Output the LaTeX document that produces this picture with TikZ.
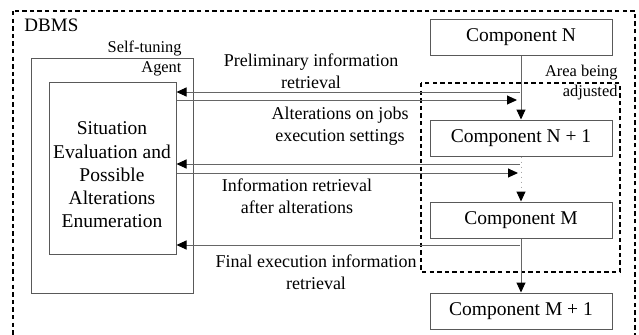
\documentclass[tikz,border=0pt]{standalone}
\usepackage{fontspec}
\setmainfont{Liberation Serif}
\usetikzlibrary{positioning}
\usetikzlibrary{calc}
\usetikzlibrary{arrows.meta}

\begin{document}
\begin{tikzpicture}[x=0.5pt,y=-0.5pt,line width=0.5pt,
			>={Triangle[length=5pt,width=4.5pt,black]}]
			\tikzstyle{comp}=[draw=black!65,minimum width=91pt,minimum height=18pt,
				font=\fontsize{9.75}{11.5}\selectfont]
			\tikzstyle{frame}=[draw=black!65,inner sep=0pt]
			\tikzstyle{link}=[draw=black!60,->]
			\tikzstyle{region}=[draw=black,line width=0.75pt,dash pattern=on 2.2pt off 1.6pt]
			\tikzstyle{note}=[font=\fontsize{9}{11}\selectfont,align=center,inner sep=0pt]
			\tikzstyle{tag}=[font=\fontsize{8.2}{10}\selectfont,align=right,anchor=east,inner sep=0pt]
			
			\useasboundingbox (0,0) rectangle (639,334);
			\draw[region] (13,11) rectangle (635,342);
			\node[anchor=west,inner sep=0pt,font=\fontsize{9.5}{11}\selectfont] (dbms) at (24,25) {DBMS};
			
			% components
			\node[comp]         (C_N)                      at (521,37) {Component N};
			\node[comp]         (C_N1) [below=32pt of C_N]          {Component N + 1};
			\node[comp]         (C_M)  [below=22.5pt of C_N1]       {Component M};
			\node[comp]         (C_M1) [below=27pt of C_M]          {Component M + 1};
			
			% agent
			\node[frame,minimum width=81pt,minimum height=117.5pt] (agent) at (112,175.5) {};
			\node[tag] (agent_t) at (182,58) {Self-tuning\\Agent};
			\node[frame,minimum width=63.5pt,minimum height=86pt] (eval) at (112.5,168) {};
			\node[align=center,inner sep=0pt,font=\fontsize{9.75}{11.6}\selectfont] (eval_t) at (112,175)
				{Situation\\Evaluation and\\Possible\\Alterations\\Enumeration};
			
			% adjusted area
			\draw[region] (421,83) rectangle (620,272);
			\node[tag] (area_t) at (618,82.5) {Area being\\adjusted};
			
			\path (C_N) edge [link] (C_N1)
			(C_N1) edge [link,draw=black!35,dotted] (C_M)
			(C_M) edge [link] (C_M1);
			
			\coordinate (p1) at (520,92);
			\coordinate (p2) at (517,100);
			\coordinate (p3) at (520,164);
			\coordinate (p4) at (518,173);
			\coordinate (p5) at (520,245);
			
			\draw[link] (p1) -- (eval.east |- p1);
			\draw[link] (eval.east |- p2) -- (p2);
			\draw[link] (p3) -- (eval.east |- p3);
			\draw[link] (eval.east |- p4) -- (p4);
			\draw[link] (p5) -- (eval.east |- p5);
			
			\node[note] (l1) at (311,71)    {Preliminary information\\retrieval};
			\node[note] (l2) at (340,126)   {Alterations on jobs\\execution settings};
			\node[note] (l3) at (297,196.5) {Information retrieval\\after alterations};
			\node[note] (l4) at (316,272)   {Final execution information\\retrieval};
			\end{tikzpicture}
\end{document}
